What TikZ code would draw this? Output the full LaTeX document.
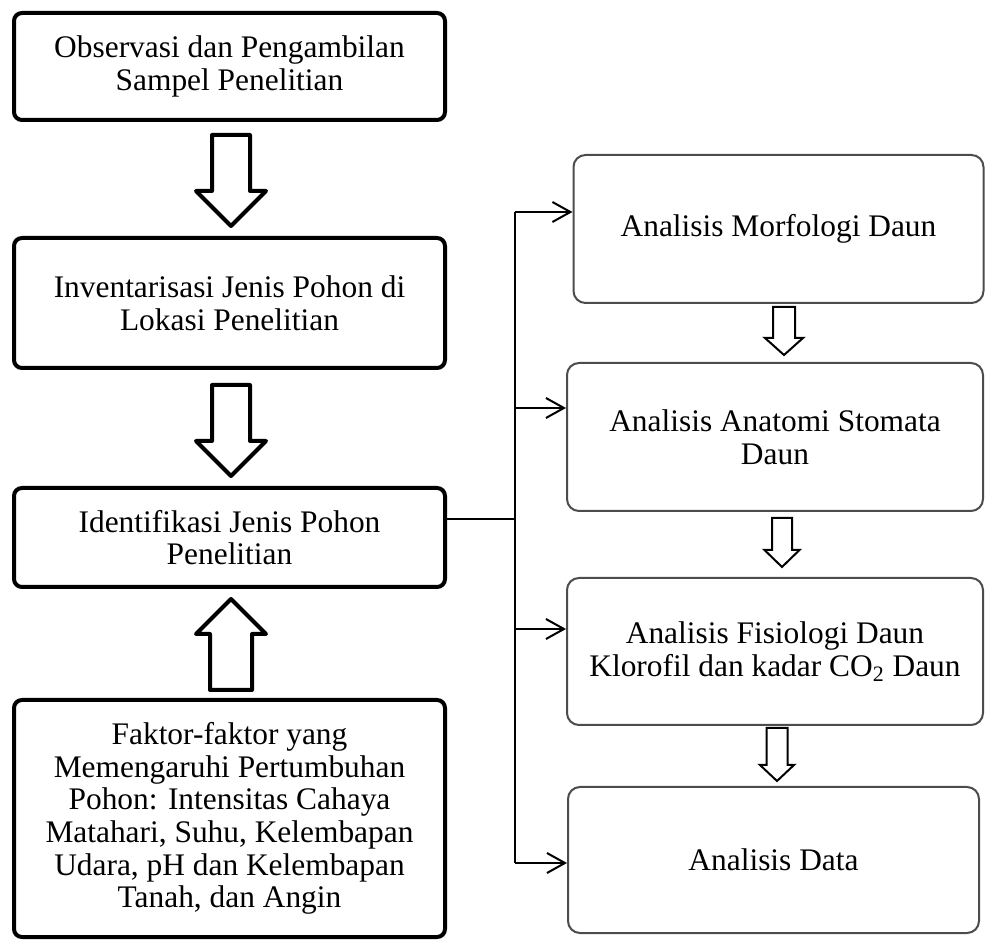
\documentclass[tikz,border=0pt]{standalone}
\usepackage{fontspec}
\setmainfont{Liberation Serif}
\usetikzlibrary{arrows.meta,calc}
\newcommand\blk[7]{% style, x, ybase, yneck, ytip, shaft half, head half
  \draw[#1] (#2-#6,#3) -- (#2+#6,#3) -- (#2+#6,#4) -- (#2+#7,#4) -- (#2,#5)
    -- (#2-#7,#4) -- (#2-#6,#4) -- cycle;}
\begin{document}
\begin{tikzpicture}[x=0.5pt,y=-0.5pt,
  txt/.style={font=\fontsize{15.7}{16.3}\selectfont,align=center,inner sep=0pt},
  lbox/.style={txt,draw,line width=2pt,rounded corners=4pt},
  rbox/.style={txt,draw=black!70,line width=1pt,rounded corners=6pt},
  bigarrow/.style={draw,line width=2pt,line join=round,fill=white},
  smallarrow/.style={draw,line width=1pt,line join=miter,fill=white},
  conn/.style={line width=1pt},
  tipped/.style={conn,-{Straight Barb[length=9pt,width=10pt]}}]
\useasboundingbox (0,0) rectangle (986,940);

% left column
\node[lbox,minimum width=215.5pt,minimum height=53.5pt] (L1) at (229.5,66.5)
  {Observasi dan Pengambilan\\Sampel Penelitian};
\node[lbox,minimum width=215.5pt,minimum height=65pt] (L2) at (229.5,303)
  {Inventarisasi Jenis Pohon di\\Lokasi Penelitian};
\node[lbox,minimum width=215.5pt,minimum height=49.5pt] (L3) at (229.5,537.5)
  {Identifikasi Jenis Pohon\\Penelitian};
\node[lbox,minimum width=215.5pt,minimum height=118.5pt] (L4) at (229.5,818.5)
  {Faktor-faktor yang\\Memengaruhi Pertumbuhan\\Pohon: Intensitas Cahaya\\Matahari, Suhu, Kelembapan\\Udara, pH dan Kelembapan\\Tanah, dan Angin};

% right column
\node[rbox,minimum width=205pt,minimum height=74pt] (R1) at (778.5,229)
  {Analisis Morfologi Daun};
\node[rbox,minimum width=208pt,minimum height=74pt] (R2) at (775,437)
  {Analisis Anatomi Stomata\\Daun};
\node[rbox,minimum width=208pt,minimum height=73.5pt] (R3) at (775,651.5)
  {Analisis Fisiologi Daun\\Klorofil dan kadar CO\textsubscript{2} Daun};
\node[rbox,minimum width=205.5pt,minimum height=73pt] (R4) at (773.5,860)
  {Analisis Data};

% block arrows
\blk{bigarrow}{231}{135}{191}{226}{19}{35}
\blk{bigarrow}{231}{385}{441}{476}{19}{35}
\blk{bigarrow}{231}{690}{634}{599}{21}{35}
\blk{smallarrow}{784}{307}{338}{355}{11}{19}
\blk{smallarrow}{782}{518}{550}{567}{10}{17.5}
\blk{smallarrow}{777}{728}{765}{781}{10.5}{17}

% connectors
\coordinate (J) at (515,519);
\coordinate (B1) at (515,212);
\coordinate (B2) at (515,408);
\coordinate (B3) at (515,629);
\coordinate (B4) at (515,863);
\draw[conn] (L3.east |- J) -- (J);
\draw[conn] (B1) -- (B4);
\draw[tipped] (B1) -- (R1.west |- B1);
\draw[tipped] (B2) -- (R2.west |- B2);
\draw[tipped] (B3) -- (R3.west |- B3);
\draw[tipped] (B4) -- (R4.west |- B4);
\end{tikzpicture}
\end{document}
